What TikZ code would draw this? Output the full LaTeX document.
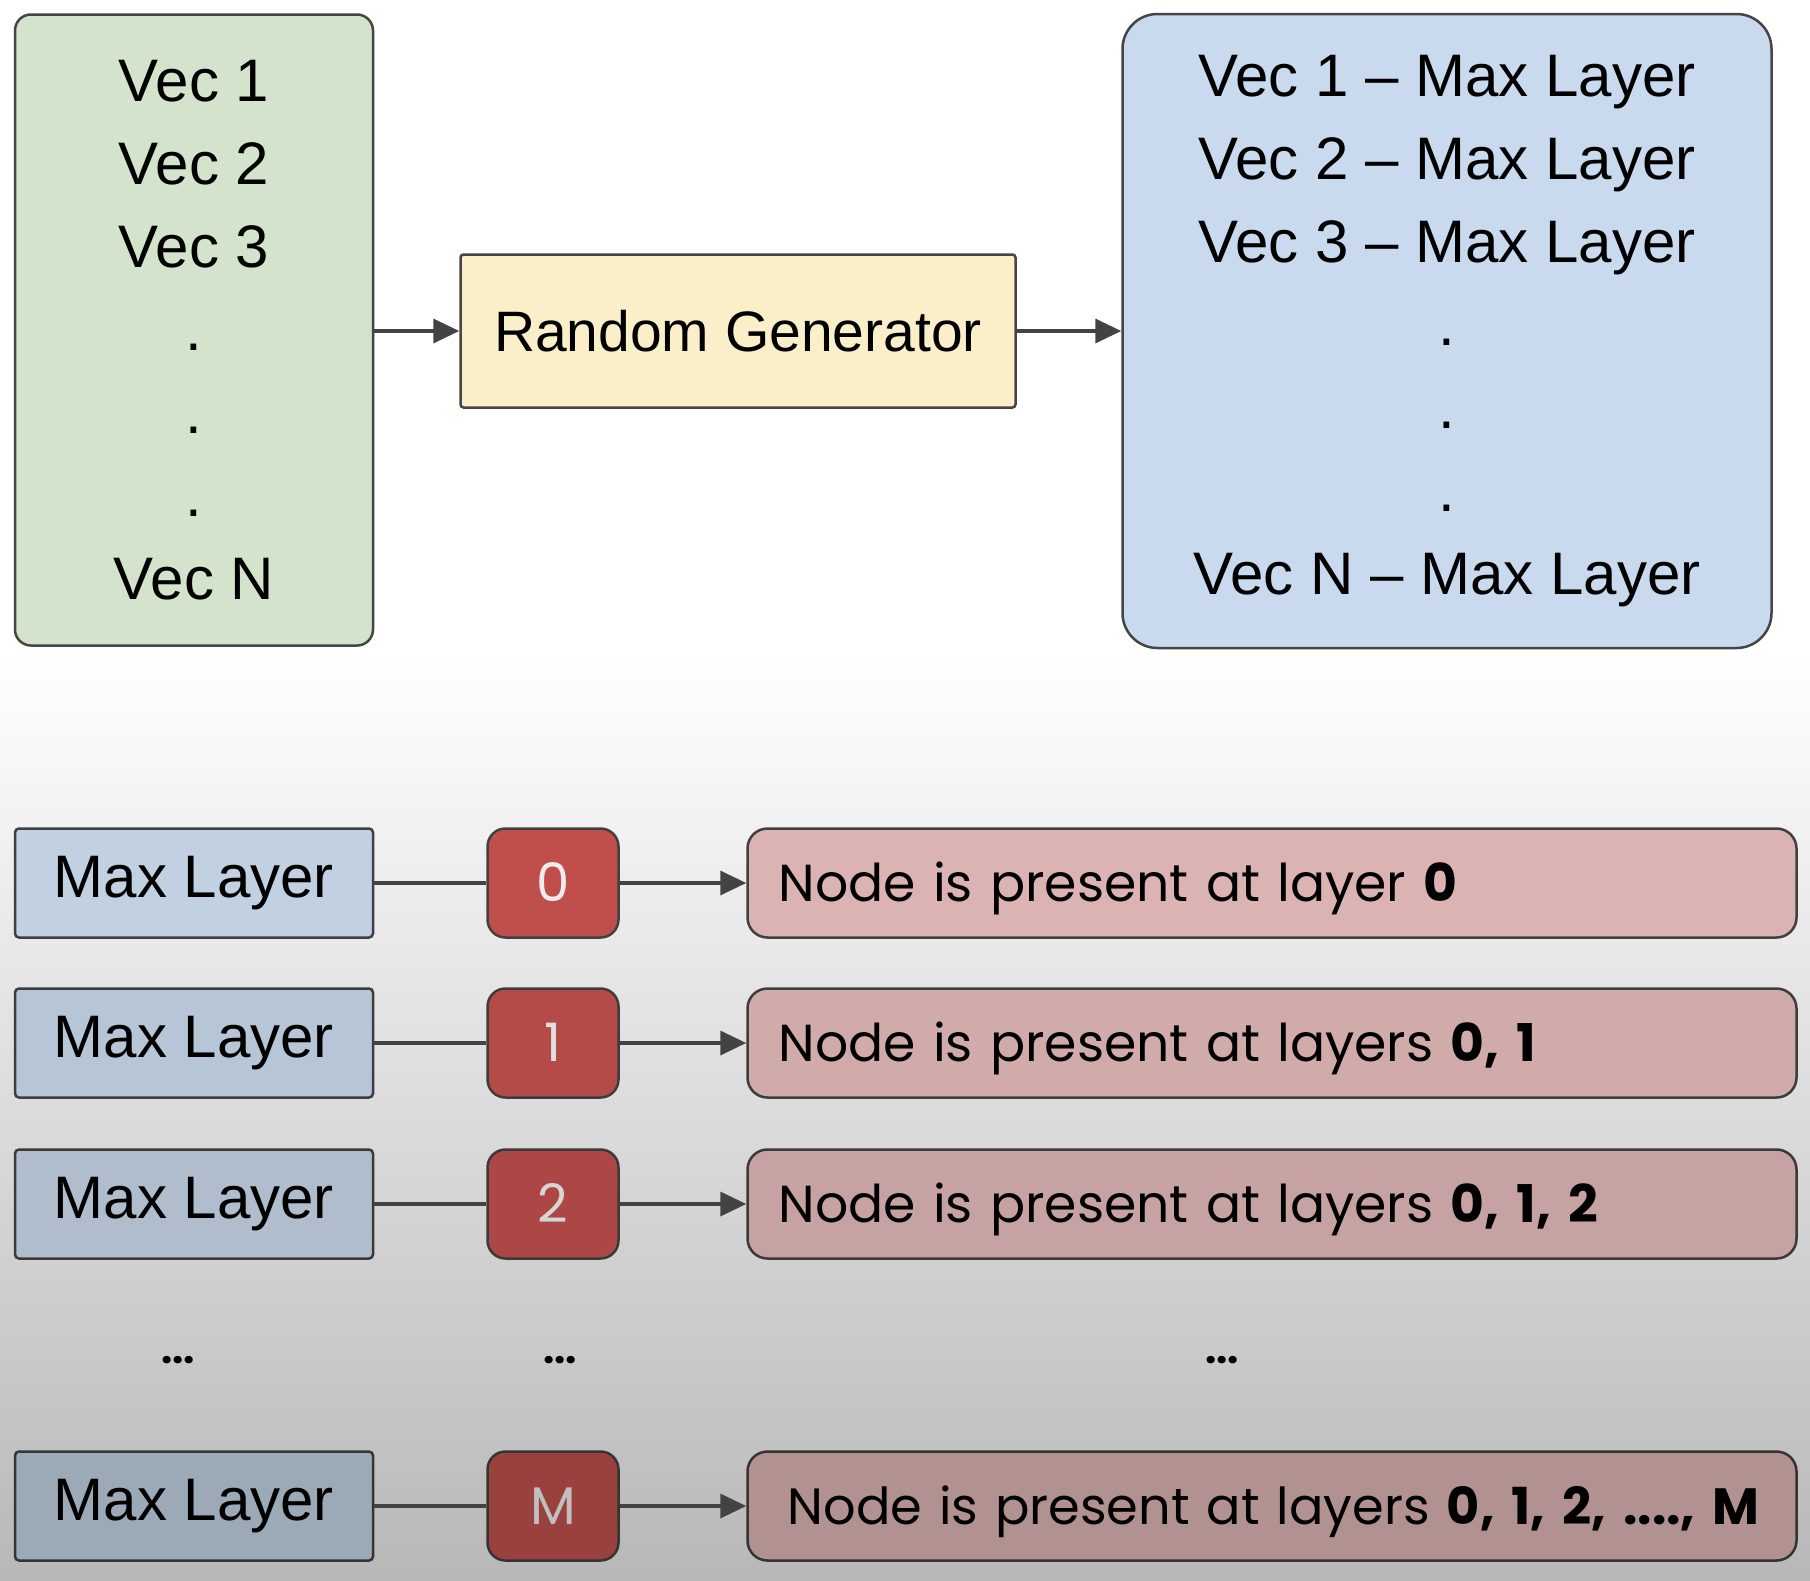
\documentclass[tikz,border=0pt]{standalone}
\usepackage{fontspec}
\setmainfont{Liberation Sans}
\newfontfamily\poppins{Poppins}
\usepackage{xcolor}
\definecolor{vecgreen}{HTML}{D4E3CB}
\definecolor{genyellow}{HTML}{FBEFC9}
\definecolor{maxblue}{HTML}{C9DAEE}
\definecolor{layerblue}{HTML}{D0E1F3}
\definecolor{numred}{HTML}{CE5552}
\definecolor{respink}{HTML}{EDC1C1}
\definecolor{edge}{HTML}{454545}
\definecolor{arrowgray}{HTML}{434343}
\usepackage{tikz}
\usetikzlibrary{arrows.meta, positioning}

\begin{document}
\begin{tikzpicture}[x=1pt, y=-1pt,
    vecbox/.style={rectangle, draw=edge, line width=2.5pt, rounded corners=16pt,
        minimum width=358pt, minimum height=631pt, align=center,
        font=\fontsize{60}{83}\selectfont},
    genbox/.style={rectangle, draw=edge, fill=genyellow, line width=2.5pt,
        rounded corners=3pt, minimum width=555pt, minimum height=153pt,
        font=\fontsize{57}{68}\selectfont},
    layerbox/.style={rectangle, draw=edge!#1!black, fill=layerblue!#1!black,
        line width=2.5pt, rounded corners=4pt, minimum width=358pt,
        minimum height=109pt, font=\fontsize{60}{72}\selectfont},
    numbox/.style={rectangle, draw=edge!#1!black, fill=numred!#1!black,
        line width=2.5pt, rounded corners=18pt, minimum width=131pt,
        minimum height=109pt, text=white!#1!black, text height=37pt,
        text depth=0pt, font=\poppins\fontsize{53}{64}\selectfont},
    resbox/.style={rectangle, draw=edge!#1!black, fill=respink!#1!black,
        line width=2.5pt, rounded corners=20pt, text width=987pt,
        inner xsep=31pt, minimum height=109pt, align=left,
        text height=37pt, text depth=0pt,
        font=\poppins\fontsize{52}{64}\selectfont},
    gap/.style={font=\poppins\bfseries\fontsize{40}{48}\selectfont},
    arr/.style={-{Triangle[length=26pt, width=24pt]}, line width=3.5pt, arrowgray},
    link/.style={line width=3.5pt, arrowgray}
]
\useasboundingbox (0,0) rectangle (1810,1580);

% page background (fades to grey towards the bottom)
\fill[white] (0,0) rectangle (1810,650);
\shade[top color=white, bottom color=white!72!black] (0,650) rectangle (1810,1580);

% Top: vectors -> generator -> max layers
\node[vecbox, fill=vecgreen] (VEC) at (194,330)
    {Vec 1\\Vec 2\\Vec 3\\.\\.\\.\\Vec N};
\node[genbox] (GEN) at (738,331) {Random Generator};
\node[vecbox, fill=maxblue, rounded corners=35pt, minimum width=649pt,
    minimum height=634pt] (MAX) at (1447,331)
    {Vec 1 -- Max Layer\\Vec 2 -- Max Layer\\Vec 3 -- Max Layer\\.\\.\\.\\Vec N -- Max Layer};

\draw[arr] (VEC.east |- GEN) -- (GEN);
\draw[arr] (GEN) -- (MAX);

% Row 0
\node[layerbox=93] (L0) at (194,883) {Max Layer};
\node[numbox=93] (N0) at (553,883) {0};
\node[resbox=93] (R0) at (1272,883) {Node is present at layer \textbf{0}};

% Row 1
\node[layerbox=88] (L1) at (194,1043) {Max Layer};
\node[numbox=88] (N1) at (553,1043) {1};
\node[resbox=88] (R1) at (1272,1043) {Node is present at layers \textbf{0, 1}};

% Row 2
\node[layerbox=84] (L2) at (194,1204) {Max Layer};
\node[numbox=84] (N2) at (553,1204) {2};
\node[resbox=84] (R2) at (1272,1204) {Node is present at layers \textbf{0, 1, 2}};

% gap
\node[gap] (D1) at (178,1360) {...};
\node[gap] (D2) at (560,1360) {...};
\node[gap] (D3) at (1222,1360) {...};

% Row M
\node[layerbox=75] (LM) at (194,1506) {Max Layer};
\node[numbox=75] (NM) at (553,1506) {M};
\node[resbox=75, text width=969pt, inner xsep=40pt,
    font=\poppins\fontsize{51}{64}\selectfont] (RM) at (1272,1506)
    {\mbox{Node is present at layers \textbf{0, 1, 2, ...., M}}};

% Arrows: max layer -> value -> layers present
\draw[link] (L0) -- (N0);
\draw[arr] (N0) -- (R0);
\draw[link] (L1) -- (N1);
\draw[arr] (N1) -- (R1);
\draw[link] (L2) -- (N2);
\draw[arr] (N2) -- (R2);
\draw[link] (LM) -- (NM);
\draw[arr] (NM) -- (RM);

\end{tikzpicture}
\end{document}
